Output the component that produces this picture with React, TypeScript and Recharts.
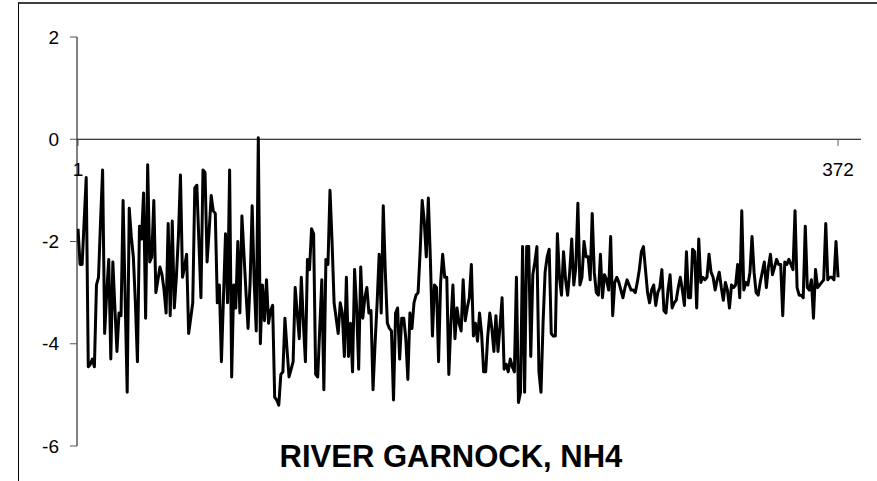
import React from 'react';
import { LineChart, Line, XAxis, YAxis, ReferenceLine } from 'recharts';

// log-transformed NH4 readings, one per sample (372 samples)
const nh4: number[] = [
  -1.75, -2.45, -2.45, -1.6, -0.75, -4.45, -4.4, -4.3, -4.45, -2.85,
  -2.7, -1.6, -0.6, -3.8, -3.0, -2.35, -4.3, -2.4, -3.3, -4.15,
  -3.4, -3.45, -1.2, -3.1, -4.95, -1.35, -1.9, -2.3, -3.2, -4.35,
  -1.7, -1.95, -1.05, -3.5, -0.5, -2.4, -2.3, -1.2, -3.0, -2.75,
  -2.5, -2.65, -2.95, -3.4, -1.65, -3.45,
  -1.6, -3.3, -2.7, -1.9, -0.7, -2.7, -2.5, -2.25, -3.8, -3.5,
  -3.2, -0.95, -0.9, -2.0, -3.1, -0.6, -0.65, -2.4, -1.8, -1.1,
  -1.4, -1.45, -3.2, -2.85, -4.35, -3.1, -1.85, -3.2, -0.6, -4.65,
  -2.85, -3.3, -2.0, -3.4, -1.5, -2.25, -3.0, -3.7, -2.8, -1.3,
  -2.8, -3.75, 0.03, -4.0, -2.85, -3.55,
  -2.75, -3.6, -3.35, -3.25, -5.05, -5.1, -5.2, -4.6, -4.55, -3.5,
  -4.1, -4.65, -4.5, -4.35, -2.9, -3.4, -3.9, -2.7, -3.6, -4.35,
  -2.35, -2.55, -1.75, -1.85, -4.6, -4.65, -3.7, -2.75, -4.9, -2.35,
  -2.45, -1.0, -2.0, -3.2, -3.5, -3.8, -3.2, -3.4, -4.25, -2.7,
  -4.25, -3.6, -4.55, -2.55, -3.3, -4.5, -2.5,
  -3.5, -3.1, -2.9, -3.4, -3.35, -4.9, -4.0, -3.2, -2.25, -3.4,
  -1.3, -2.6, -3.6, -3.7, -3.75, -5.1, -3.4, -3.3, -4.3, -3.5,
  -3.5, -3.9, -4.7, -3.4, -3.7, -3.2, -3.05, -3.0, -2.2, -1.2,
  -1.6, -2.3, -1.15, -2.35, -3.85, -2.85, -2.9, -4.35, -2.8, -2.25,
  -2.7, -2.7, -4.6, -3.6, -2.85, -3.9,
  -3.3, -3.6, -3.75, -2.75, -3.55, -3.3, -3.1, -2.45, -3.85, -3.6,
  -3.95, -3.4, -3.8, -4.55, -4.55, -3.85, -3.4, -3.7, -4.15, -3.45,
  -4.15, -3.65, -3.1, -4.5, -4.4, -4.55, -4.3, -4.45, -4.55, -2.7,
  -5.15, -4.95, -2.1, -4.95, -2.1, -2.1, -4.25, -2.65, -2.4, -2.1,
  -4.55, -4.95, -3.6, -2.6, -2.3, -2.15, -3.8,
  -3.85, -3.85, -1.85, -2.7, -3.05, -2.2, -2.75, -3.05, -2.6, -1.95,
  -2.85, -2.5, -1.25, -2.85, -2.7, -2.0, -2.3, -2.3, -2.75, -1.45,
  -2.6, -3.0, -3.05, -2.25, -3.1, -2.65, -2.75, -2.95, -1.9, -3.45,
  -2.8, -2.7, -2.8, -2.95, -3.1, -2.9, -2.75, -2.85, -2.95, -2.95,
  -3.0, -2.8, -2.55, -2.2, -2.1, -2.55,
  -3.0, -3.2, -2.95, -2.85, -3.25, -3.0, -2.9, -2.55, -3.35, -3.4,
  -2.95, -2.65, -3.3, -3.2, -3.15, -2.9, -2.7, -2.95, -3.25, -2.2,
  -3.1, -3.1, -2.15, -2.2, -3.3, -1.95, -2.8, -2.7, -2.75, -2.7,
  -2.25, -2.6, -2.7, -2.95, -2.75, -2.6, -2.9, -3.15, -2.8, -2.95,
  -3.3, -2.85, -2.9, -2.85, -2.45, -3.1,
  -1.4, -2.95, -2.8, -2.85, -2.6, -1.9, -2.6, -3.0, -3.05, -2.8,
  -2.6, -2.4, -2.9, -2.5, -2.25, -2.65, -2.5, -2.35, -2.45, -2.45,
  -3.45, -2.4, -2.45, -2.35, -2.45, -2.55, -1.4, -2.9, -3.05, -3.05,
  -3.1, -1.7, -2.9, -2.95, -2.75, -3.5, -2.55, -2.9, -2.85, -2.8,
  -2.75, -1.65, -2.75, -2.7, -2.7, -2.75, -2.0, -2.7,
];

const xLabels = [1, 372];
const yTicks = [-6, -4, -2, 0, 2];

const data = nh4.map((v, i) => ({ sample: i + 1, nh4: v }));

const FONT = '"Liberation Sans", Arial, sans-serif';

export default function App() {
  return (
    <div
      style={{
        position: 'absolute',
        left: 0,
        top: 0,
        width: 877,
        height: 481,
        overflow: 'hidden',
        background: '#fff',
        fontFamily: FONT,
      }}
    >
      {/* chart frame, right and bottom edges run off the page */}
      <div
        style={{
          position: 'absolute',
          left: 18,
          top: 2,
          width: 900,
          height: 520,
          borderTop: '2px solid #404040',
          borderLeft: '1px solid #000',
        }}
      />
      <LineChart
        width={877}
        height={481}
        data={data}
        margin={{ top: 37, right: 16, bottom: 35, left: 0 }}
        style={{ position: 'absolute', left: 0, top: 0 }}
      >
        <XAxis type="number" dataKey="sample" domain={[0.5, 383.2]} allowDataOverflow hide />
        <YAxis
          domain={[-6, 2]}
          ticks={yTicks}
          interval={0}
          width={77}
          tickSize={7}
          tickMargin={11}
          axisLine={{ stroke: '#000', strokeWidth: 1 }}
          tickLine={{ stroke: '#555', strokeWidth: 1 }}
          tick={{ fill: '#000', fontSize: 19, fontFamily: FONT }}
        />
        {/* category axis crosses at zero */}
        <ReferenceLine y={0} stroke="#000" strokeWidth={1} />
        {xLabels.map((n) => (
          <ReferenceLine
            key={n}
            segment={[
              { x: n, y: 0 },
              { x: n, y: -0.13 },
            ]}
            stroke="#555"
            strokeWidth={1}
            label={{
              value: String(n),
              position: 'bottom',
              offset: 17,
              fill: '#000',
              fontSize: 19,
              fontFamily: FONT,
            }}
          />
        ))}
        <Line
          type="linear"
          dataKey="nh4"
          stroke="#000"
          strokeWidth={3}
          strokeLinejoin="round"
          dot={false}
          isAnimationActive={false}
        />
      </LineChart>
      <div
        style={{
          position: 'absolute',
          left: 0,
          width: 902,
          top: 441,
          textAlign: 'center',
          fontSize: 31,
          lineHeight: '31px',
          fontWeight: 'bold',
          color: '#000',
        }}
      >
        RIVER GARNOCK, NH4
      </div>
    </div>
  );
}
